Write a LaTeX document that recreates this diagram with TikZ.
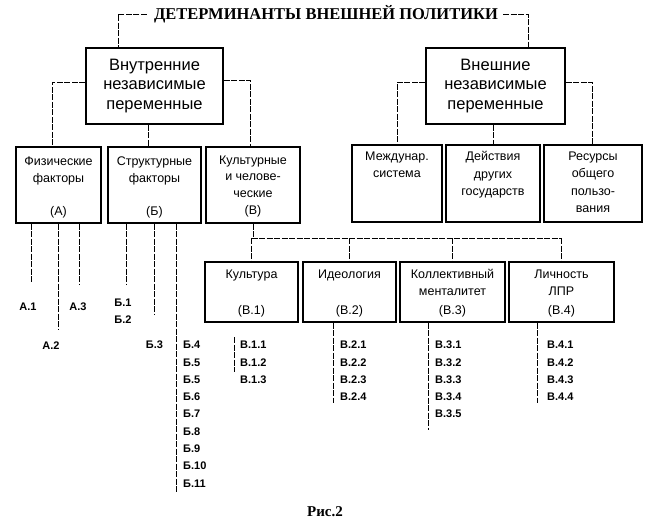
\documentclass[tikz,border=0pt]{standalone}
\usepackage{fontspec}
\setmainfont{Liberation Sans}
\newfontfamily\titlefont{Liberation Serif}
\usetikzlibrary{positioning}

\tikzset{
  bigbox/.style={draw, line width=1.8pt, minimum width=137pt, minimum height=76pt,
    align=center, inner sep=0pt, font=\fontsize{16.5}{19.5}\selectfont},
  smallbox/.style={draw, line width=1.2pt, inner sep=0pt},
  boxtext/.style={align=center, inner sep=0pt, font=\fontsize{12.5}{17.5}\selectfont},
  item/.style={inner sep=0pt, font=\bfseries\fontsize{11}{12}\selectfont},
  conn/.style={line width=0.7pt, dash pattern=on 6pt off 1.5pt},
}

\begin{document}
\begin{tikzpicture}[x=1pt,y=-1pt]
  \useasboundingbox (0,0) rectangle (650,527);

  \node[font=\titlefont\bfseries\fontsize{16.5}{18}\selectfont, inner sep=0pt] (title)
      at (326,14) {ДЕТЕРМИНАНТЫ ВНЕШНЕЙ ПОЛИТИКИ};

  % two main groups
  \node[bigbox] (inner) at (154.5,86) {Внутренние\\независимые\\переменные};
  \node[bigbox, minimum width=139pt] (outer) at (495.5,86) {Внешние\\независимые\\переменные};
  \draw[conn] ([xshift=-7pt]title.west) -| ([xshift=-36.5pt]inner.north);
  \draw[conn] ([xshift=5pt]title.east) -| ([xshift=32.5pt]outer.north);

  % inner factors
  \node[smallbox, minimum width=85pt, minimum height=76pt] (phys) at (58.5,185) {};
  \node[smallbox, minimum width=93pt, minimum height=76pt] (struct) at (154.5,185) {};
  \node[smallbox, minimum width=94pt, minimum height=76pt] (cult) at (253,185) {};
  \node[boxtext, below=10pt of phys.north] (physname) {Физические\\факторы};
  \node[boxtext, below=10pt of struct.north] (structname) {Структурные\\факторы};
  \node[boxtext, below=9pt of cult.north, font=\fontsize{12.5}{16.5}\selectfont] (cultname)
      {Культурные\\и челове-\\ческие};
  \node[boxtext, above=5pt of phys.south] (physcode) {(А)};
  \node[boxtext, above=5pt of struct.south] (structcode) {(Б)};
  \node[boxtext, above=6pt of cult.south] (cultcode) {(В)};
  \draw[conn] ([yshift=4pt]inner.west) -| ([xshift=-6pt]phys.north);
  \draw[conn] ([yshift=6pt]inner.east) -| ([xshift=-3pt]cult.north);
  \draw[conn] ([xshift=-6pt]inner.south) -- ([xshift=-6pt]inner.south |- struct.north);

  % outer factors
  \node[smallbox, minimum width=90pt, minimum height=77pt] (intl) at (397,183.5) {};
  \node[smallbox, minimum width=94pt, minimum height=77pt] (acts) at (493,183.5) {};
  \node[smallbox, minimum width=98pt, minimum height=77pt] (res) at (593,183.5) {};
  \node[boxtext, below=7pt of intl.north] (intlname) {Междунар.\\система};
  \node[boxtext, below=7pt of acts.north] (actsname) {Действия\\других\\государств};
  \node[boxtext, below=7pt of res.north] (resname) {Ресурсы\\общего\\пользо-\\вания};
  \draw[conn] ([yshift=4pt]outer.west) -| (intl.north);
  \draw[conn] ([yshift=4pt]outer.east) -| ([xshift=-1pt]res.north);
  \draw[conn] ([xshift=-2pt]outer.south) -- ([xshift=-2pt]outer.south |- acts.north);

  % cultural subgroups
  \node[smallbox, minimum width=93pt, minimum height=60pt] (cu) at (251.5,292) {};
  \node[smallbox, minimum width=93pt, minimum height=60pt] (id) at (349.5,292) {};
  \node[smallbox, minimum width=105pt, minimum height=60pt] (kol) at (452.5,292) {};
  \node[smallbox, minimum width=105pt, minimum height=60pt] (lich) at (561.5,292) {};
  \node[boxtext, below=8pt of cu.north] (cuname) {Культура};
  \node[boxtext, below=8pt of id.north] (idname) {Идеология};
  \node[boxtext, below=8pt of kol.north, font=\fontsize{12.5}{17}\selectfont] (kolname)
      {Коллективный\\менталитет};
  \node[boxtext, below=8pt of lich.north, font=\fontsize{12.5}{17}\selectfont] (lichname)
      {Личность\\ЛПР};
  \foreach \b/\c in {cu/В.1, id/В.2, kol/В.3, lich/В.4}
    \node[boxtext, above=5pt of \b.south] (\b code) {(\c)};
  \coordinate (bus) at (0,238);
  \draw[conn] (cult.south) -- (cult.south |- bus);
  \draw[conn] (cu.north |- bus) -- (lich.north |- bus);
  \foreach \b in {cu,id,kol,lich}
    \draw[conn] (\b.north |- bus) -- (\b.north);

  % items A
  \node[item] (a1) at (28,307) {А.1};
  \node[item] (a2) at (51,346) {А.2};
  \node[item] (a3) at (78,307) {А.3};
  \coordinate (a1end) at (31,283);
  \coordinate (a2end) at (58,330);
  \coordinate (a3end) at (79,285);
  \foreach \e in {a1end,a2end,a3end}
    \draw[conn] (phys.south -| \e) -- (\e);

  % items B
  \node[item] (b1) at (123,303) {Б.1};
  \node[item] (b2) at (123,320) {Б.2};
  \node[item] (b3) at (154.5,345) {Б.3};
  \coordinate (b1end) at (126,285);
  \coordinate (b3end) at (154,315);
  \coordinate (b4end) at (176,492);
  \foreach \e in {b1end,b3end,b4end}
    \draw[conn] (struct.south -| \e) -- (\e);
  \foreach \t [count=\k from 4] in {Б.4,Б.5,Б.5,Б.6,Б.7,Б.8,Б.9,Б.10,Б.11}
    \node[item, anchor=west] (b\k) at (183,{345+17.3*(\k-4)}) {\t};

  % items V
  \foreach \t [count=\k] in {В.1.1,В.1.2,В.1.3}
    \node[item, anchor=west] (v1\k) at (240,{345+17.3*(\k-1)}) {\t};
  \foreach \t [count=\k] in {В.2.1,В.2.2,В.2.3,В.2.4}
    \node[item, anchor=west] (v2\k) at (340,{345+17.3*(\k-1)}) {\t};
  \foreach \t [count=\k] in {В.3.1,В.3.2,В.3.3,В.3.4,В.3.5}
    \node[item, anchor=west] (v3\k) at (435,{345+17.3*(\k-1)}) {\t};
  \foreach \t [count=\k] in {В.4.1,В.4.2,В.4.3,В.4.4}
    \node[item, anchor=west] (v4\k) at (547,{345+17.3*(\k-1)}) {\t};
  \coordinate (v1top) at (234,337);
  \coordinate (v1end) at (234,372);
  \coordinate (v2end) at (333,403);
  \coordinate (v3end) at (428,430);
  \coordinate (v4end) at (537,403);
  \draw[conn] (v1top) -- (v1end);
  \draw[conn] (id.south -| v2end) -- (v2end);
  \draw[conn] (kol.south -| v3end) -- (v3end);
  \draw[conn] (lich.south -| v4end) -- (v4end);

  \node[font=\titlefont\bfseries\fontsize{15}{16}\selectfont, inner sep=0pt] (caption)
      at (325,512) {Рис.2};
\end{tikzpicture}
\end{document}
